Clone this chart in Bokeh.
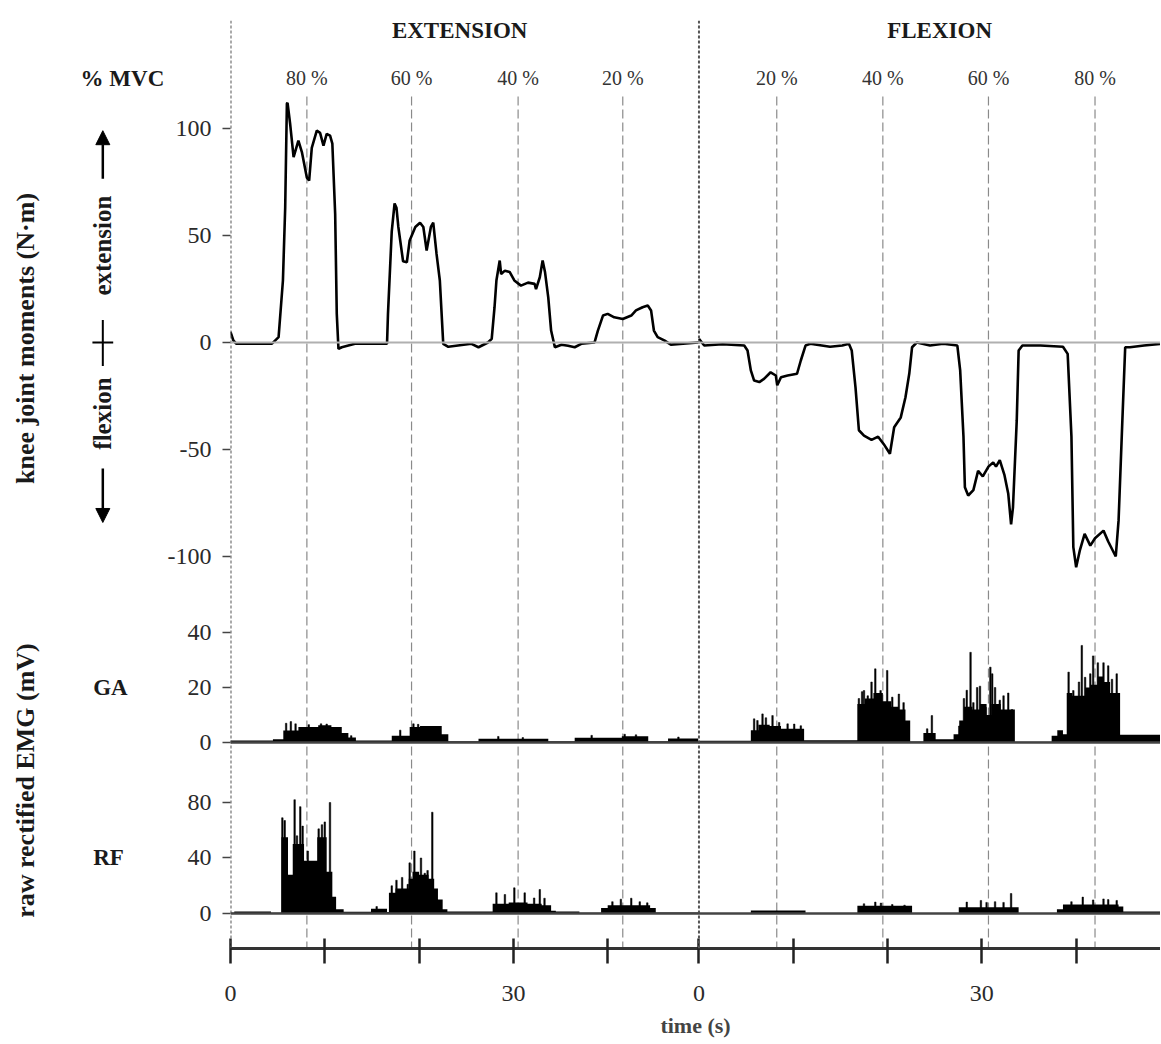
import numpy as np
from bokeh.plotting import figure
from bokeh.layouts import row
from bokeh.models import Range1d, FixedTicker, Span, Label, Arrow, NormalHead
from bokeh.embed import file_html
from bokeh.resources import INLINE

FONT = "Liberation Serif"

# ---------------- data ----------------
# knee joint moment, extension trials (time s, N·m)
ext_t = [0.0, 0.3, 0.6, 2.0, 4.4, 5.1, 5.56, 5.8, 5.98, 6.05, 6.33, 6.69, 7.2, 7.57, 8.1, 8.34, 8.62, 9.15, 9.5, 9.86,
         10.2, 10.56, 10.8, 11.1, 11.27, 11.45, 11.8, 13.2, 16.6, 16.7, 17.1, 17.4, 17.6, 17.8, 18.3, 18.7, 19.0, 19.6,
         20.1, 20.45, 20.8, 21.25, 21.5, 21.85, 22.2, 22.56, 23.1, 25.55, 26.3, 27.3, 27.7, 28.0, 28.2, 28.55, 28.7,
         29.1, 29.6, 30.1, 30.8, 31.55, 32.25, 32.4, 32.8, 33.1, 33.35, 33.7, 34.0, 34.4, 35.1, 35.8, 36.5, 37.2, 38.6,
         38.96, 39.5, 40.0, 40.7, 41.6, 42.5, 43.0, 43.7, 44.25, 44.6, 44.9, 45.3, 46.0, 46.7, 49.6]
ext_m = [5.0, 1.0, -0.5, -0.5, -0.5, 2.5, 29, 63, 111.7, 112, 102, 86.6, 94.4, 89, 77, 75.7, 91, 99, 98, 92,
         97.5, 96.7, 93, 60, 13.4, -3, -2.2, -0.6, -0.6, 13.4, 52, 65, 63, 54, 38, 37.5, 47.7, 54,
         56, 54, 43, 54, 56, 41.4, 29, -0.6, -2, -0.6, -2.2, 0, 1.7, 16.5, 29, 38.3, 32,
         33.6, 33, 29, 26.6, 28, 27.4, 25, 30.5, 38.3, 33, 21, 5.6, -2.2, -1, -1.5, -2.2, -0.6, 0,
         5.6, 12.6, 13.4, 11.8, 11, 12.6, 15, 16.5, 17.3, 15, 5.6, 2.5, 1, -1, 0]

# knee joint moment, flexion trials (time s from flexion start, N·m)
flex_t = [0.0, 0.56, 2.5, 4.8, 5.15, 5.5, 5.85, 6.4, 6.9, 7.6, 8.15, 8.3, 8.7, 9.4, 10.4, 10.8, 11.3, 11.8, 13.9,
          15.2, 15.9, 16.2, 16.6, 16.96, 17.5, 18.3, 19.0, 19.6, 20.25, 20.7, 21.4, 21.9, 22.3, 22.6, 23.1, 24.5,
          25.9, 27.4, 27.7, 28.05, 28.2, 28.55, 29.1, 29.6, 30.1, 30.7, 31.2, 31.5, 31.9, 32.4, 32.8, 33.1, 33.3,
          33.7, 33.9, 34.3, 36.2, 38.6, 39.1, 39.5, 39.7, 40.0, 40.4, 40.9, 41.5, 42.0, 42.9, 43.4, 44.2, 44.5,
          44.9, 45.2, 45.7, 47.2, 48.9]
flex_m = [1.7, -1.4, -0.8, -1.4, -3.7, -13, -17.8, -18.5, -17, -13.9, -15.4, -20, -16.2, -15.4, -14.6, -8.4, -1.4,
          -0.6, -2, -1.4, -0.6, -3.7, -21, -41, -43.5, -45.5, -44, -47.5, -52, -39.6, -35, -25.6, -14.6, -2.2, 0,
          -1.4, -0.6, -1.4, -13, -44, -67.6, -71.5, -69, -60, -62.6, -58, -56, -58, -55, -62, -70.7, -85, -77,
          -36.4, -3.7, -1.4, -1.4, -2, -5.3, -44, -95.6, -105, -97, -89.4, -94.9, -91.5, -87.9, -93, -100, -83,
          -36.4, -2.2, -2.2, -1.4, -0.6]

# raw rectified EMG (mV): activity level (step) and individual peaks
ga_ext_body_t = [0.0, 4.5, 5.6, 7.2, 9.3, 10.7, 11.8, 12.5, 13.3, 17.1, 19.0, 20.1, 22.4, 23.1, 26.3, 33.7, 36.5,
                 41.5, 44.3, 46.4, 49.6]
ga_ext_body_h = [0.7, 1.2, 4.4, 5.6, 6.3, 5.6, 3.5, 1.8, 0.7, 2.5, 5.6, 6.0, 3.0, 0.5, 1.4, 0.5, 1.7, 2.3, 0.5,
                 1.5, 1.5]
ga_ext_peak_t = [5.9, 6.4, 6.9, 8.3, 9.6, 10.2, 12.8, 18.0, 19.4, 19.9, 21.3, 28.4, 31.0, 38.3, 41.8, 43.0, 47.5]
ga_ext_peak_h = [7.0, 7.6, 6.8, 6.5, 6.8, 6.7, 2.5, 4.5, 6.8, 6.6, 5.8, 2.2, 1.8, 2.6, 3.0, 2.8, 2.0]

rf_ext_body_t = [0.0, 0.4, 4.3, 5.4, 6.1, 6.6, 7.8, 9.2, 10.2, 10.8, 11.2, 12.0, 14.9, 16.6, 16.8, 17.5, 18.9,
                 19.3, 20.0, 21.0, 21.6, 22.0, 22.5, 23.0, 27.8, 29.5, 31.5, 33.0, 34.0, 34.5, 37.0, 39.3, 40.0,
                 44.5, 45.1, 49.6]
rf_ext_body_h = [0.5, 1.5, 0.5, 55, 28, 50, 38, 55, 30, 12, 3, 1.2, 3.5, 1.0, 15, 18, 25, 30, 28, 25, 18, 10,
                 3, 1.5, 7, 8, 7, 6, 2, 1.5, 0.5, 4, 6, 4, 0.8, 0.8]
rf_ext_peak_t = [5.5, 5.75, 6.8, 7.05, 7.4, 7.65, 8.2, 9.35, 9.7, 10.0, 10.55, 15.5, 17.1, 17.6, 18.2, 18.8, 19.0,
                 19.5, 19.8, 20.2, 20.6, 20.9, 21.4, 28.2, 29.1, 30.1, 31.2, 32.2, 32.8, 33.3, 40.5, 41.4, 42.5,
                 43.4, 44.2]
rf_ext_peak_h = [69, 67, 82, 56, 77, 63, 45, 61, 64, 66, 80, 5, 20, 24, 26, 21, 36.5, 45, 29, 40, 29, 31, 73,
                 14.9, 13.7, 18.5, 14.9, 11.2, 17.3, 11, 8.5, 10.3, 11, 8.5, 7.7]

ga_flex_body_t = [0.0, 5.5, 6.3, 7.5, 8.7, 10.0, 11.15, 16.8, 17.6, 18.5, 19.5, 20.4, 21.2, 21.9, 22.4, 23.8,
                  25.1, 27.0, 27.6, 28.1, 29.0, 29.8, 30.5, 31.0, 32.0, 33.5, 37.4, 38.0, 38.6, 39.0, 39.6, 40.3,
                  40.95, 41.5, 42.3, 42.9, 43.6, 44.66, 48.9]
ga_flex_body_h = [0.6, 4.5, 6.5, 6.0, 5.0, 5.0, 0.8, 14, 16, 18, 15, 13, 12, 8, 0.4, 3.5, 1.2, 3, 8, 13, 12, 14,
                  10, 14, 12, 0.3, 2.5, 4.5, 3, 18, 17, 17, 20, 21, 24, 22, 18, 2.8, 2.8]
ga_flex_peak_t = [5.85, 6.2, 6.74, 7.1, 7.8, 8.5, 9.4, 10.1, 10.8, 16.96, 17.3, 17.5, 17.9, 18.3, 18.7, 19.26,
                  19.96, 20.5, 21.2, 21.7, 24.2, 24.7, 27.6, 28.1, 28.4, 28.8, 29.1, 29.5, 29.8, 30.4, 30.9, 31.1,
                  31.4, 31.9, 32.3, 32.8, 33.2, 39.2, 39.7, 40.3, 40.6, 40.95, 41.5, 41.8, 42.3, 42.9, 43.4, 43.8,
                  44.3]
ga_flex_peak_h = [8.6, 8.0, 10.4, 9.0, 9.8, 7.3, 6.8, 6.7, 6.1, 16, 18.5, 18.9, 17, 22, 26.8, 18.9, 26.2, 16.5,
                  17.6, 14.5, 5, 9.8, 6, 16, 19, 32.8, 14.5, 20, 20.5, 12.8, 27.4, 25, 20, 15.4, 17, 18, 12, 25.6,
                  18.9, 22, 35.3, 23.7, 25, 31.5, 29, 29, 27.9, 23, 25]

rf_flex_body_t = [0.0, 5.5, 11.3, 16.8, 22.6, 27.55, 33.9, 37.96, 38.6, 44.5, 45.0, 48.9]
rf_flex_body_h = [0.3, 2.2, 0.3, 5.5, 0.3, 4.5, 0.3, 3, 6.5, 5, 1.5, 1.5]
rf_flex_peak_t = [17.5, 18.7, 19.3, 20.5, 21.8, 28.4, 29.9, 30.5, 31.4, 32.3, 33.1, 39.5, 40.7, 41.8, 42.9, 43.4,
                  44.3]
rf_flex_peak_h = [7, 8.2, 7.5, 6.5, 6, 8.2, 9.4, 8, 8.5, 8, 14.4, 8.5, 11.8, 9.8, 10.5, 10, 9.4]

# % MVC target levels and times of their markers
mvc_ext_labels = ["80 %", "60 %", "40 %", "20 %"]
mvc_ext_t = [8.1, 19.2, 30.5, 41.6]
mvc_flex_labels = ["20 %", "40 %", "60 %", "80 %"]
mvc_flex_t = [8.25, 19.5, 30.7, 42.0]

moment_ticks = [100, 50, 0, -50, -100]
ga_ticks = [0, 20, 40]
rf_ticks = [0, 40, 80]
time_ticks = [0, 10, 20, 30, 40]
time_labels = {0: "0", 30: "30"}

# ---------------- layout ----------------
FLEX_OFFSET = 49.68          # flexion block starts here on the common time axis
PX_PER_S = 9.45
TOTAL_W = 1160
LEFT_W = 164                 # width of the left text column
AXIS_W = 64                  # room for the left tick labels
MAIN_W = TOTAL_W - LEFT_W
X_END = (MAIN_W - AXIS_W) / PX_PER_S
H = 1042
TOP, BOTTOM = 20, 94

M_RANGE = Range1d(-283.2, 150.5)
GA_RANGE = Range1d(-74.91, 262.55)
RF_RANGE = Range1d(-25.23, 643.6)

p = figure(width=MAIN_W, height=H, output_backend="svg", toolbar_location=None,
           x_range=Range1d(0, X_END), y_range=M_RANGE,
           min_border_left=AXIS_W, min_border_right=0, min_border_top=TOP, min_border_bottom=BOTTOM)
p.extra_y_ranges = {"ga": GA_RANGE, "rf": RF_RANGE}
p.grid.visible = False
p.outline_line_color = None


def to_main(v, r):
    return M_RANGE.start + (v - r.start) / (r.end - r.start) * (M_RANGE.end - M_RANGE.start)


# left axis: three panels on one axis
ticks, overrides = [], {}
for v in moment_ticks:
    ticks.append(float(v)); overrides[float(v)] = str(v)
for v in ga_ticks:
    pos = round(to_main(v, GA_RANGE), 4); ticks.append(pos); overrides[pos] = str(v)
for v in rf_ticks:
    pos = round(to_main(v, RF_RANGE), 4); ticks.append(pos); overrides[pos] = str(v)
ya = p.yaxis[0]
ya.ticker = FixedTicker(ticks=ticks, minor_ticks=[])
ya.major_label_overrides = overrides
ya.axis_line_color = None
ya.major_tick_in = 0
ya.major_tick_out = 8
ya.major_tick_line_color = "#444"
ya.major_tick_line_width = 1.5
ya.major_label_standoff = 11
ya.major_label_text_font = FONT
ya.major_label_text_font_size = "24px"
ya.major_label_text_color = "#2a2a2a"

# bottom time axis (two blocks, each restarting at 0)
xt, xo = [], {}
for off in (0.0, FLEX_OFFSET):
    for v in time_ticks:
        pos = round(off + v, 4); xt.append(pos); xo[pos] = time_labels.get(v, "")
xa = p.xaxis[0]
xa.ticker = FixedTicker(ticks=xt, minor_ticks=[])
xa.major_label_overrides = xo
xa.axis_line_width = 3
xa.axis_line_color = "#333"
xa.major_tick_in = 10
xa.major_tick_out = 15
xa.major_tick_line_width = 2.5
xa.major_tick_line_color = "#222"
xa.major_label_standoff = 22
xa.major_label_text_font = FONT
xa.major_label_text_font_size = "24px"
xa.major_label_text_color = "#2a2a2a"
xa.axis_label = "time (s)"
xa.axis_label_text_font = FONT
xa.axis_label_text_font_style = "bold"
xa.axis_label_text_font_size = "22px"
xa.axis_label_standoff = 9

# reference lines
for loc in (0.0, FLEX_OFFSET):
    p.add_layout(Span(location=loc, dimension="height", line_color="#555", line_width=2, line_dash="3 2"))
p.add_layout(Span(location=0, dimension="width", line_color="#b0b0b0", line_width=2))
p.add_layout(Span(location=to_main(0, GA_RANGE), dimension="width", line_color="#444", line_width=2.5))
p.add_layout(Span(location=to_main(0, RF_RANGE), dimension="width", line_color="#444", line_width=2.5))

mvc_x = list(mvc_ext_t) + [FLEX_OFFSET + t for t in mvc_flex_t]
p.segment(x0=mvc_x, x1=mvc_x, y0=115, y1=M_RANGE.start, line_color="#8a8a8a", line_width=1.2,
          line_dash="9 4")

# moment traces
p.line(ext_t, ext_m, line_color="black", line_width=2.6)
p.line([FLEX_OFFSET + t for t in flex_t], flex_m, line_color="black", line_width=2.6)


# EMG traces
def emg(body_t, body_h, peak_t, peak_h, rng, off):
    bx = [off + t for t in body_t]
    p.varea_step(x=bx, y1=[0] * len(bx), y2=body_h, step_mode="after", fill_color="black",
                 y_range_name=rng)
    p.vbar(x=[off + t for t in peak_t], top=peak_h, bottom=0, width=0.16, fill_color="black",
           line_color="black", line_width=0.5, y_range_name=rng)


emg(ga_ext_body_t, ga_ext_body_h, ga_ext_peak_t, ga_ext_peak_h, "ga", 0.0)
emg(ga_flex_body_t, ga_flex_body_h, ga_flex_peak_t, ga_flex_peak_h, "ga", FLEX_OFFSET)
emg(rf_ext_body_t, rf_ext_body_h, rf_ext_peak_t, rf_ext_peak_h, "rf", 0.0)
emg(rf_flex_body_t, rf_flex_body_h, rf_flex_peak_t, rf_flex_peak_h, "rf", FLEX_OFFSET)


def lab(fig, x, y, text, size, bold=False, angle=0.0, color="#1a1a1a", align="center"):
    fig.add_layout(Label(x=x, y=y, text=text, text_font=FONT, text_font_size=size,
                         text_font_style="bold" if bold else "normal", text_align=align,
                         text_baseline="middle", angle=angle, text_color=color))


lab(p, 24.3, 145.8, "EXTENSION", "23px", bold=True)
lab(p, 75.2, 145.8, "FLEXION", "23px", bold=True)
for t, s in zip(mvc_ext_t, mvc_ext_labels):
    lab(p, t, 123.4, s, "20px", color="#333")
for t, s in zip(mvc_flex_t, mvc_flex_labels):
    lab(p, FLEX_OFFSET + t, 123.4, s, "20px", color="#333")

# ---------------- left text column (same vertical scale, time units extended to the left) ----------------
x_left0 = -(LEFT_W + AXIS_W) / PX_PER_S
q = figure(width=LEFT_W, height=H, output_backend="svg", toolbar_location=None,
           x_range=Range1d(x_left0, x_left0 + LEFT_W / PX_PER_S), y_range=M_RANGE,
           x_axis_location=None, y_axis_location=None,
           min_border_left=0, min_border_right=0, min_border_top=TOP, min_border_bottom=BOTTOM)
q.grid.visible = False
q.outline_line_color = None

lab(q, -6.8, 123.4, "% MVC", "23px", bold=True, align="right")
lab(q, -21.5, 1.9, "knee joint moments (N·m)", "26px", bold=True, angle=np.pi / 2)
lab(q, -13.3, 45.3, "extension", "25px", bold=True, angle=np.pi / 2)
lab(q, -13.3, -33.2, "flexion", "25px", bold=True, angle=np.pi / 2)
lab(q, -21.5, -204.7, "raw rectified EMG (mV)", "26px", bold=True, angle=np.pi / 2)
lab(q, -12.5, -161.2, "GA", "23px", bold=True)
lab(q, -12.7, -240.7, "RF", "23px", bold=True)

q.add_layout(Arrow(end=NormalHead(size=14, fill_color="black", line_color="black"),
                   x_start=-13.3, y_start=76.6, x_end=-13.3, y_end=99, line_width=2.5))
q.add_layout(Arrow(end=NormalHead(size=14, fill_color="black", line_color="black"),
                   x_start=-13.3, y_start=-58.9, x_end=-13.3, y_end=-84.1, line_width=2.5))
q.add_layout(Arrow(end=None, x_start=-13.3, y_start=10.5, x_end=-13.3, y_end=-11, line_width=2))
q.add_layout(Arrow(end=None, x_start=-14.4, y_start=0, x_end=-12.2, y_end=0, line_width=2))

layout = row(q, p)
open("out.html", "w").write(file_html(layout, INLINE))
